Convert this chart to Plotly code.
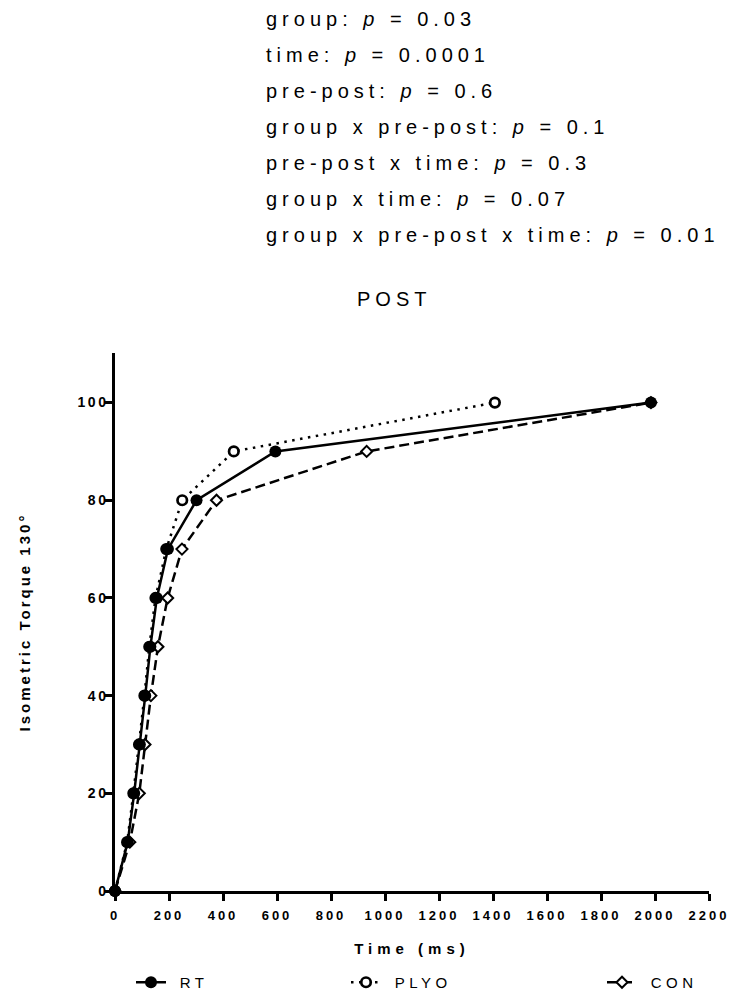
import plotly.graph_objects as go

# ---------------- data ----------------
torque_levels = [0, 10, 20, 30, 40, 50, 60, 70, 80, 90, 100]
rt_time = [0, 47, 71, 92, 112, 131, 155, 196, 302, 594, 1985]
plyo_time = [0, 45, 68, 89, 109, 127, 150, 190, 249, 440, 1407]
con_time = [0, 55, 90, 111, 133, 159, 195, 248, 376, 932, 1985]

group_names = ["RT", "PLYO", "CON"]

x_ticks = [0, 200, 400, 600, 800, 1000, 1200, 1400, 1600, 1800, 2000, 2200]
y_ticks = [0, 20, 40, 60, 80, 100]

stats_lines = [
    "group: <i>p</i> = 0.03",
    "time: <i>p</i> = 0.0001",
    "pre-post: <i>p</i> = 0.6",
    "group x pre-post: <i>p</i> = 0.1",
    "pre-post x time: <i>p</i> = 0.3",
    "group x time: <i>p</i> = 0.07",
    "group x pre-post x time: <i>p</i> = 0.01",
]
panel_title = "POST"
x_title = "Time (ms)"
y_title = "Isometric Torque 130°"

FONT = "Liberation Sans, Arial, sans-serif"

# ---------------- geometry (pixels) ----------------
W, H = 733, 999
L, R, T, B = 115, 24, 353, 108
PW, PH = W - L - R, H - T - B


def px_to_paper(xp, yp):
    return (xp - L) / PW, (H - B - yp) / PH


fig = go.Figure()

fig.add_trace(go.Scatter(
    x=con_time, y=torque_levels, name=" " + group_names[2], mode="lines+markers",
    line=dict(color="black", width=2.5, dash="10px,5px"),
    marker=dict(symbol="diamond", size=8.5, color="white",
                line=dict(color="black", width=2)),
    cliponaxis=False, legend="legend3", hoverinfo="skip",
))
fig.add_trace(go.Scatter(
    x=plyo_time, y=torque_levels, name=" " + group_names[1], mode="lines+markers",
    line=dict(color="black", width=2.5, dash="2.5px,5.5px"),
    marker=dict(symbol="circle", size=9.5, color="white",
                line=dict(color="black", width=2.7)),
    cliponaxis=False, legend="legend2", hoverinfo="skip",
))
fig.add_trace(go.Scatter(
    x=rt_time, y=torque_levels, name=" " + group_names[0], mode="lines+markers",
    line=dict(color="black", width=2.5),
    marker=dict(symbol="circle", size=12, color="black"),
    cliponaxis=False, legend="legend", hoverinfo="skip",
))

annotations = []
for i, txt in enumerate(stats_lines):
    xp, yp = px_to_paper(264, 19 + 36 * i)
    annotations.append(dict(
        x=xp, y=yp, xref="paper", yref="paper", text=txt, showarrow=False,
        xanchor="left", yanchor="middle", align="left",
        font=dict(family=FONT, size=20, color="black"),
    ))
xp, yp = px_to_paper(394, 299)
annotations.append(dict(
    x=xp, y=yp, xref="paper", yref="paper", text=panel_title, showarrow=False,
    xanchor="center", yanchor="middle",
    font=dict(family=FONT, size=20, color="black"),
))

legend_common = dict(
    orientation="h", xref="container", yref="container",
    yanchor="bottom", y=-0.010, xanchor="left",
    font=dict(family=FONT, size=15, color="black"),
    bgcolor="rgba(0,0,0,0)", borderwidth=0, itemclick=False,
)

fig.update_layout(
    width=W, height=H, autosize=False,
    margin=dict(l=L, r=R, t=T, b=B, pad=0),
    paper_bgcolor="white", plot_bgcolor="white",
    font=dict(family=FONT, color="black"),
    showlegend=True,
    legend=dict(legend_common, x=(157 - 26) / W),
    legend2=dict(legend_common, x=(372 - 26) / W),
    legend3=dict(legend_common, x=(628 - 26) / W),
    annotations=annotations,
    xaxis=dict(
        range=[0, 2200], tickmode="array", tickvals=x_ticks,
        ticktext=[str(v) for v in x_ticks],
        showline=True, linecolor="black", linewidth=2.5,
        ticks="outside", ticklen=7, tickwidth=2.5, tickcolor="black",
        showgrid=False, zeroline=False, ticklabelstandoff=4,
        tickfont=dict(family=FONT, size=13, color="black", weight="bold"),
        title=dict(text=x_title, standoff=22,
                   font=dict(family=FONT, size=15, color="black", weight="bold")),
        automargin=False,
    ),
    yaxis=dict(
        range=[0, 110.15], tickmode="array", tickvals=y_ticks,
        ticktext=[str(v) for v in y_ticks],
        showline=True, linecolor="black", linewidth=2.5,
        ticks="outside", ticklen=7, tickwidth=2.5, tickcolor="black",
        showgrid=False, zeroline=False, ticklabelstandoff=-6,
        tickfont=dict(family=FONT, size=14, color="black", weight="bold"),
        title=dict(text=y_title, standoff=51,
                   font=dict(family=FONT, size=15, color="black", weight="bold")),
        automargin=False,
    ),
)

css = (
    "html,body{margin:0;padding:0;overflow:hidden}"
    ".xtick text{letter-spacing:3px}"
    ".ytick text{letter-spacing:2.5px}"
    ".g-xtitle text{letter-spacing:5px}"
    ".g-ytitle text{letter-spacing:3px}"
    ".annotation-text{letter-spacing:5px}"
    "g[class^=legend] text{letter-spacing:4.5px !important}"
    "g[class^=legend], g[class^=legend] *{clip-path:none !important}"
)
post = ("var s=document.createElement('style');s.textContent='" + css +
        "';document.head.appendChild(s);")

fig.write_html("out.html", config={"displayModeBar": False}, post_script=post)
